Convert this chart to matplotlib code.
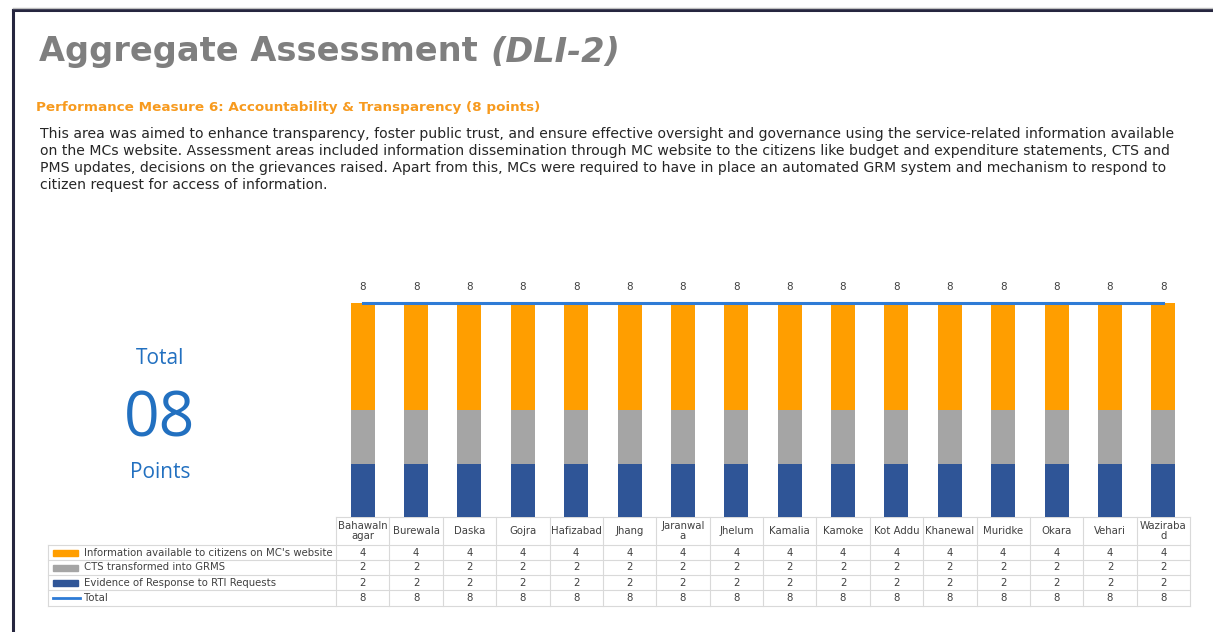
import matplotlib.pyplot as plt
import numpy as np

# data
cities = ['Bahawaln\nagar', 'Burewala', 'Daska', 'Gojra', 'Hafizabad', 'Jhang',
          'Jaranwal\na', 'Jhelum', 'Kamalia', 'Kamoke', 'Kot Addu', 'Khanewal',
          'Muridke', 'Okara', 'Vehari', 'Waziraba\nd']
info_web = [4, 4, 4, 4, 4, 4, 4, 4, 4, 4, 4, 4, 4, 4, 4, 4]
cts_grms = [2, 2, 2, 2, 2, 2, 2, 2, 2, 2, 2, 2, 2, 2, 2, 2]
rti_resp = [2, 2, 2, 2, 2, 2, 2, 2, 2, 2, 2, 2, 2, 2, 2, 2]
total = [8, 8, 8, 8, 8, 8, 8, 8, 8, 8, 8, 8, 8, 8, 8, 8]

series_names = ["Information available to citizens on MC's website",
                'CTS transformed into GRMS',
                'Evidence of Response to RTI Requests',
                'Total']

c_orange = '#FF9E00'
c_gray = '#A5A5A5'
c_navy = '#2F5597'
c_line = '#2E7BD6'

W, H = 1213, 632
fig = plt.figure(figsize=(W / 100, H / 100), dpi=100)

# fondo en pixeles para texto y tabla
bg = fig.add_axes([0, 0, 1, 1])
bg.set_xlim(0, W)
bg.set_ylim(H, 0)
bg.axis('off')

# marco
bg.plot([13, 13], [10, H], color='#26263F', lw=2.2)
bg.plot([13, W], [10, 10], color='#26263F', lw=2.2)
bg.plot([13, W], [7.5, 7.5], color='#BFBFBF', lw=1)

bg.text(39, 52, 'Aggregate Assessment ', fontsize=24.2, fontweight='bold',
        color='#7F7F7F', va='center', ha='left')
bg.text(490, 52, '(DLI-2)', fontsize=24.2, fontweight='bold', style='italic',
        color='#7F7F7F', va='center', ha='left')
bg.text(36, 107, 'Performance Measure 6: Accountability & Transparency (8 points)',
        fontsize=9.7, fontweight='bold', color='#F79A1E', va='center')

parrafo = ("This area was aimed to enhance transparency, foster public trust, and ensure effective oversight and governance using the service-related information available\n"
           "on the MCs website. Assessment areas included information dissemination through MC website to the citizens like budget and expenditure statements, CTS and\n"
           "PMS updates, decisions on the grievances raised. Apart from this, MCs were required to have in place an automated GRM system and mechanism to respond to\n"
           "citizen request for access of information.")
bg.text(40, 127, parrafo, fontsize=10.1, color='#262626', va='top', ha='left',
        linespacing=1.26)

bg.text(160, 358, 'Total', fontsize=15, color='#2270C0', ha='center', va='center',
        family='Open Sans')
bg.text(160, 420, '08', fontsize=45, color='#2270C0', ha='center', va='center',
        family='Open Sans')
bg.text(160, 473, 'Points', fontsize=15, color='#2270C0', ha='center', va='center',
        family='Open Sans')

# grafico de barras
x0, x1 = 336, 1190
ytop, ybot = 270, 517
ax = fig.add_axes([x0 / W, 1 - ybot / H, (x1 - x0) / W, (ybot - ytop) / H])
n = len(cities)
x = np.arange(n)
bw = 0.45
ax.bar(x, rti_resp, bw, color=c_navy)
ax.bar(x, cts_grms, bw, bottom=rti_resp, color=c_gray)
ax.bar(x, info_web, bw, bottom=np.array(rti_resp) + np.array(cts_grms), color=c_orange)
ax.plot(x, total, color=c_line, lw=2.2)
for i, t in enumerate(total):
    ax.annotate(str(t), (x[i], t), xytext=(0, 8), textcoords='offset points',
                ha='center', va='bottom', fontsize=7.5, color='#404040')
ax.set_xlim(-0.5, n - 0.5)
ax.set_ylim(0, 8 * (ybot - ytop) / (ybot - 303))
ax.axis('off')

# tabla de datos
lc = '#D9D9D9'
fs = 7.3
col_w = (x1 - x0) / n
tx0 = 48
row_y = [517, 545, 560, 575, 590, 606]
# encabezado
bg.plot([x0, x1], [row_y[0], row_y[0]], color=lc, lw=0.8)
for r in row_y[1:]:
    bg.plot([tx0, x1], [r, r], color=lc, lw=0.8)
bg.plot([tx0, tx0], [row_y[1], row_y[-1]], color=lc, lw=0.8)
for j in range(n + 1):
    bg.plot([x0 + j * col_w] * 2, [row_y[0], row_y[-1]], color=lc, lw=0.8)
for j, c in enumerate(cities):
    bg.text(x0 + (j + 0.5) * col_w, (row_y[0] + row_y[1]) / 2, c, fontsize=fs,
            color='#404040', ha='center', va='center', linespacing=1.05)

valores = [info_web, cts_grms, rti_resp, total]
colores = [c_orange, c_gray, c_navy, c_line]
for k in range(4):
    yc = (row_y[k + 1] + row_y[k + 2]) / 2
    if k < 3:
        bg.add_patch(plt.Rectangle((53, yc - 3), 25, 6, color=colores[k]))
    else:
        bg.plot([53, 80], [yc, yc], color=colores[k], lw=2)
    bg.text(84, yc, series_names[k], fontsize=fs, color='#404040', va='center')
    for j, v in enumerate(valores[k]):
        bg.text(x0 + (j + 0.5) * col_w, yc, str(v), fontsize=fs, color='#404040',
                ha='center', va='center')

fig.savefig('out.png', dpi=100)
